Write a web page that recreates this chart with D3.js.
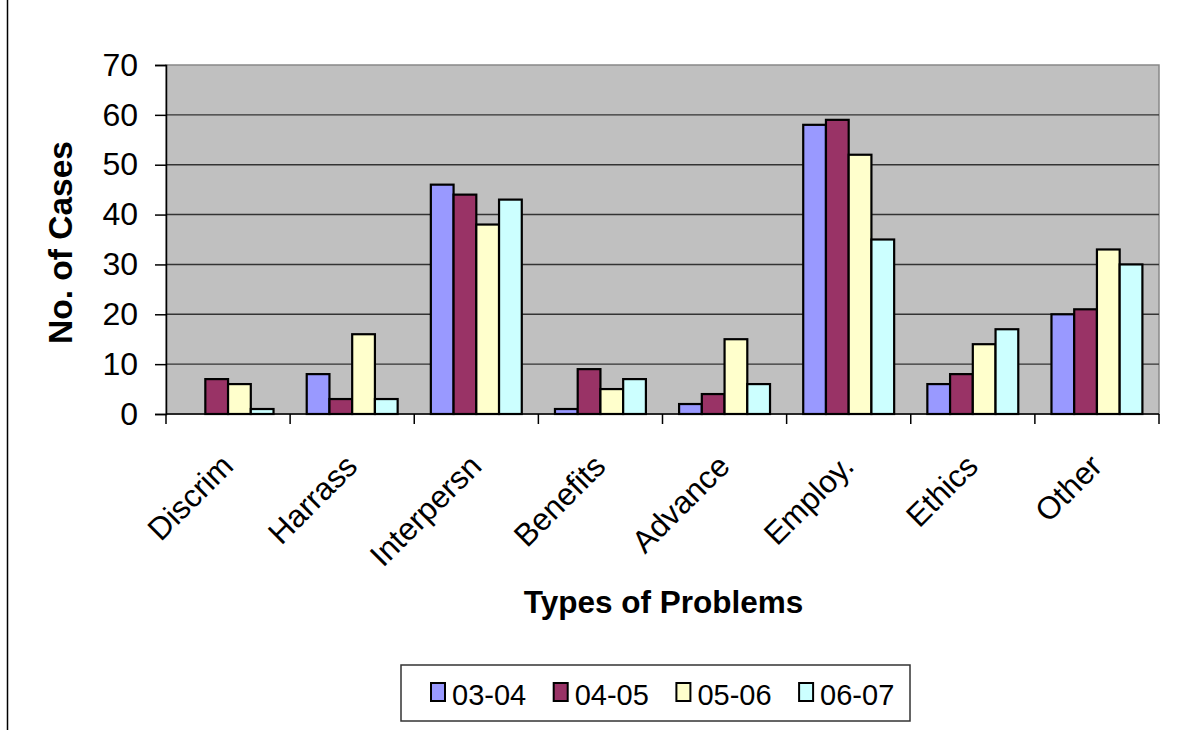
<!DOCTYPE html>
<html>
<head>
<meta charset="utf-8">
<script src="https://cdn.jsdelivr.net/npm/d3@7"></script>
<style>
  body { margin: 0; background: #ffffff; }
  text { font-family: Arial, 'Liberation Sans', sans-serif; }
</style>
</head>
<body>
<script>
const categories = ['Discrim', 'Harrass', 'Interpersn', 'Benefits', 'Advance', 'Employ.', 'Ethics', 'Other'];
const seriesNames = ['03-04', '04-05', '05-06', '06-07'];
const s0304 = [0, 8, 46, 1, 2, 58, 6, 20];
const s0405 = [7, 3, 44, 9, 4, 59, 8, 21];
const s0506 = [6, 16, 38, 5, 15, 52, 14, 33];
const s0607 = [1, 3, 43, 7, 6, 35, 17, 30];
const yTicks = [0, 10, 20, 30, 40, 50, 60, 70];
const colors = ['#9999ff', '#993366', '#ffffcc', '#ccffff'];

const allSeries = [s0304, s0405, s0506, s0607];
const width = 1182;
const height = 730;
const plot = {left: 166, right: 1159, top: 65, bottom: 414};

const svg = d3.select('body').append('svg')
  .attr('width', width)
  .attr('height', height);

// left border line of the page
svg.append('line')
  .attr('x1', 7.5).attr('x2', 7.5)
  .attr('y1', 0).attr('y2', height)
  .attr('stroke', '#000').attr('stroke-width', 1.5);

const x = d3.scaleBand()
  .domain(categories)
  .range([plot.left, plot.right]);

const x1 = d3.scaleBand()
  .domain(seriesNames)
  .range([0, x.bandwidth()])
  .paddingOuter(0.73);

const y = d3.scaleLinear()
  .domain([0, 70])
  .range([plot.bottom, plot.top]);

// plot background
svg.append('rect')
  .attr('x', plot.left)
  .attr('y', plot.top)
  .attr('width', plot.right - plot.left)
  .attr('height', plot.bottom - plot.top)
  .attr('fill', '#c0c0c0')
  .attr('stroke', '#888')
  .attr('stroke-width', 1.5);

// gridlines
svg.append('g')
  .selectAll('line')
  .data(yTicks.filter((t) => t > 0 && t < 70))
  .join('line')
  .attr('x1', plot.left)
  .attr('x2', plot.right)
  .attr('y1', (d) => y(d))
  .attr('y2', (d) => y(d))
  .attr('stroke', '#333')
  .attr('stroke-width', 1.4);

// bars
const groups = svg.append('g')
  .selectAll('g')
  .data(categories)
  .join('g')
  .attr('transform', (d) => `translate(${x(d)},0)`);

groups.selectAll('rect')
  .data((d, i) => seriesNames.map((s, j) => ({s, j, v: allSeries[j][i]})))
  .join('rect')
  .filter((d) => d.v > 0)
  .attr('x', (d) => x1(d.s))
  .attr('y', (d) => y(d.v))
  .attr('width', x1.bandwidth())
  .attr('height', (d) => y(0) - y(d.v))
  .attr('fill', (d) => colors[d.j])
  .attr('stroke', '#000')
  .attr('stroke-width', 2.2);

// y axis
const yAxis = svg.append('g')
  .attr('transform', `translate(${plot.left},0)`)
  .call(d3.axisLeft(y).tickValues(yTicks).tickSize(11).tickPadding(17));
yAxis.select('.domain').attr('stroke', '#000').attr('stroke-width', 1.5);
yAxis.selectAll('.tick line').attr('stroke', '#000').attr('stroke-width', 1.5);
yAxis.selectAll('.tick text')
  .attr('font-size', 32)
  .attr('font-family', 'Arial, Liberation Sans, sans-serif')
  .attr('fill', '#000');

// x axis
const xAxis = svg.append('g')
  .attr('transform', `translate(0,${plot.bottom})`);
xAxis.append('line')
  .attr('x1', plot.left).attr('x2', plot.right)
  .attr('y1', 0).attr('y2', 0)
  .attr('stroke', '#000').attr('stroke-width', 1.5);
xAxis.selectAll('line.tk')
  .data(categories.map((c) => x(c)).concat([plot.right]))
  .join('line')
  .attr('class', 'tk')
  .attr('x1', (d) => d).attr('x2', (d) => d)
  .attr('y1', 0).attr('y2', 10)
  .attr('stroke', '#000').attr('stroke-width', 1.5);

svg.append('g')
  .selectAll('text')
  .data(categories)
  .join('text')
  .attr('transform', (d) => `translate(${x(d) + x.bandwidth() / 2 + 7},468) rotate(-45)`)
  .attr('text-anchor', 'end')
  .attr('font-size', 31.5)
  .attr('fill', '#000')
  .text((d) => d);

// axis titles
svg.append('text')
  .attr('transform', `translate(72,${(plot.top + plot.bottom) / 2 + 3}) rotate(-90)`)
  .attr('text-anchor', 'middle')
  .attr('font-size', 33.5)
  .attr('font-weight', 'bold')
  .text('No. of Cases');

svg.append('text')
  .attr('x', (plot.left + plot.right) / 2 + 1)
  .attr('y', 613)
  .attr('text-anchor', 'middle')
  .attr('font-size', 31.5)
  .attr('font-weight', 'bold')
  .text('Types of Problems');

// legend
const legend = svg.append('g');
legend.append('rect')
  .attr('x', 401).attr('y', 665)
  .attr('width', 509).attr('height', 56)
  .attr('fill', '#fff')
  .attr('stroke', '#333')
  .attr('stroke-width', 1.5);

const item = legend.selectAll('g')
  .data(seriesNames)
  .join('g')
  .attr('transform', (d, i) => `translate(${431 + i * 122.7},0)`);
item.append('rect')
  .attr('x', 0).attr('y', 683)
  .attr('width', 14).attr('height', 18)
  .attr('fill', (d, i) => colors[i])
  .attr('stroke', '#000')
  .attr('stroke-width', 2);
item.append('text')
  .attr('x', 21).attr('y', 705)
  .attr('font-size', 29)
  .attr('fill', '#000')
  .text((d) => d);
</script>
</body>
</html>
